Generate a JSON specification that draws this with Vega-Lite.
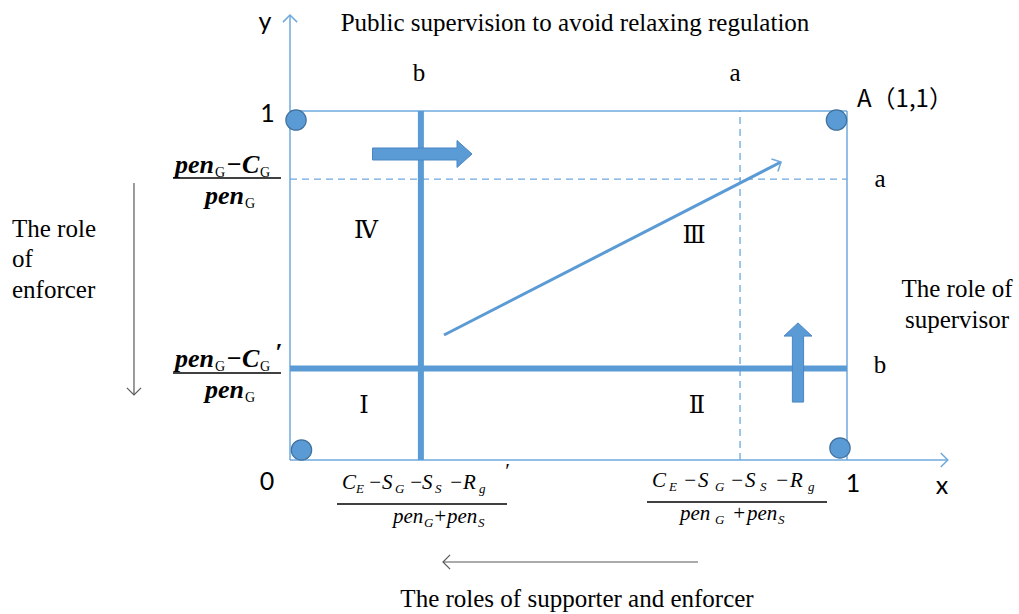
{
  "$schema": "https://vega.github.io/schema/vega-lite/v6.json",
  "width": 1019,
  "height": 614,
  "padding": 0,
  "autosize": {"type": "none"},
  "background": "white",
  "config": {"view": {"stroke": null}},
  "datasets": {
    "frame": [
      {"x": 0, "y": 0, "x2": 0, "y2": 1.275},
      {"x": 0, "y": 0, "x2": 1.181, "y2": 0},
      {"x": 0, "y": 1, "x2": 1, "y2": 1},
      {"x": 1, "y": 0, "x2": 1, "y2": 1}
    ],
    "thick": [
      {"x": 0.235, "y": 0, "x2": 0.235, "y2": 1},
      {"x": 0, "y": 0.262, "x2": 1, "y2": 0.262}
    ],
    "dashed": [
      {"x": 0, "y": 0.805, "x2": 1, "y2": 0.805},
      {"x": 0.808, "y": 0, "x2": 0.808, "y2": 1}
    ],
    "diag": [{"x": 0.2765, "y": 0.3582, "x2": 0.8815, "y2": 0.8539}],
    "blueHeads": [
      {"x": 0, "y": 1.275, "a": 0},
      {"x": 1.181, "y": 0, "a": 90},
      {"x": 0.8815, "y": 0.8539, "a": 62.8}
    ],
    "grayLines": [
      {"x": -0.2801, "y": 0.7937, "x2": -0.2801, "y2": 0.1862},
      {"x": 0.2747, "y": -0.2923, "x2": 0.7325, "y2": -0.2923}
    ],
    "grayHeads": [
      {"x": -0.2801, "y": 0.1862, "a": 180},
      {"x": 0.2747, "y": -0.2923, "a": 270}
    ],
    "corners": [
      {"x": 0.0108, "y": 0.9742},
      {"x": 0.9811, "y": 0.9742},
      {"x": 0.0206, "y": 0.0287},
      {"x": 0.9874, "y": 0.0344}
    ],
    "rightArrow": [{"x": 0.2379, "y": 0.8768}],
    "upArrow": [{"x": 0.912, "y": 0.2794}],
    "bars": [
      {"x": -0.2101, "y": 0.808, "x2": -0.0162, "y2": 0.808},
      {"x": -0.2101, "y": 0.2493, "x2": -0.0162, "y2": 0.2493},
      {"x": 0.0844, "y": -0.1261, "x2": 0.3896, "y2": -0.1261},
      {"x": 0.6409, "y": -0.1203, "x2": 0.9641, "y2": -0.1203}
    ],
    "serifCenter": [
      {"x": 0.5117, "y": 1.2292, "t": "Public supervision to avoid relaxing regulation"},
      {"x": 0.5153, "y": -0.4212, "t": "The roles of supporter and enforcer"},
      {"x": 1.1975, "y": 0.467, "t": "The role of"},
      {"x": 1.1975, "y": 0.3782, "t": "supervisor"},
      {"x": 0.2316, "y": 1.0859, "t": "b"},
      {"x": 0.7989, "y": 1.0859, "t": "a"},
      {"x": 1.0592, "y": 0.7822, "t": "a"},
      {"x": 1.0592, "y": 0.2493, "t": "b"}
    ],
    "serifLeft": [
      {"x": -0.4991, "y": 0.639, "t": "The role"},
      {"x": -0.4991, "y": 0.553, "t": "of"},
      {"x": -0.4991, "y": 0.4642, "t": "enforcer"}
    ],
    "sans": [
      {"x": -0.0449, "y": 1.2321, "t": "y"},
      {"x": -0.0404, "y": 0.9685, "t": "1"},
      {"x": -0.0413, "y": -0.086, "t": "0"},
      {"x": 1.0108, "y": -0.0917, "t": "1"},
      {"x": 1.1706, "y": -0.0974, "t": "x"}
    ],
    "pointLabel": [{"x": 1.018, "y": 1.0115, "t": "A（1,1）"}],
    "roman": [
      {"x": 0.1364, "y": 0.6562, "t": "Ⅳ"},
      {"x": 0.7253, "y": 0.6418, "t": "Ⅲ"},
      {"x": 0.1329, "y": 0.1547, "t": "Ⅰ"},
      {"x": 0.7307, "y": 0.1547, "t": "Ⅱ"}
    ],
    "leftMain": [
      {"x": -0.2065, "y": 0.8223, "t": "pen"},
      {"x": -0.1149, "y": 0.8223, "t": "−"},
      {"x": -0.0862, "y": 0.8223, "t": "C"},
      {"x": -0.1526, "y": 0.7335, "t": "pen"},
      {"x": -0.2065, "y": 0.2665, "t": "pen"},
      {"x": -0.1149, "y": 0.2665, "t": "−"},
      {"x": -0.0862, "y": 0.2665, "t": "C"},
      {"x": -0.1526, "y": 0.1777, "t": "pen"},
      {"x": -0.0269, "y": 0.2837, "t": "′"}
    ],
    "leftSub": [
      {"x": -0.1346, "y": 0.8109, "t": "G"},
      {"x": -0.0539, "y": 0.8109, "t": "G"},
      {"x": -0.0808, "y": 0.7221, "t": "G"},
      {"x": -0.1346, "y": 0.255, "t": "G"},
      {"x": -0.0539, "y": 0.255, "t": "G"},
      {"x": -0.0808, "y": 0.1662, "t": "G"}
    ],
    "botMain": [
      {"x": 0.0934, "y": -0.0831, "t": "C"},
      {"x": 0.14, "y": -0.0831, "t": "−"},
      {"x": 0.1652, "y": -0.0831, "t": "S"},
      {"x": 0.2136, "y": -0.0831, "t": "−"},
      {"x": 0.237, "y": -0.0831, "t": "S"},
      {"x": 0.2855, "y": -0.0831, "t": "−"},
      {"x": 0.3106, "y": -0.0831, "t": "R"},
      {"x": 0.3842, "y": -0.0516, "t": "′"},
      {"x": 0.1849, "y": -0.1805, "t": "pen"},
      {"x": 0.2567, "y": -0.1805, "t": "+"},
      {"x": 0.2819, "y": -0.1805, "t": "pen"},
      {"x": 0.6499, "y": -0.0774, "t": "C"},
      {"x": 0.7056, "y": -0.0774, "t": "−"},
      {"x": 0.7325, "y": -0.0774, "t": "S"},
      {"x": 0.7899, "y": -0.0774, "t": "−"},
      {"x": 0.8169, "y": -0.0774, "t": "S"},
      {"x": 0.8707, "y": -0.0774, "t": "−"},
      {"x": 0.8977, "y": -0.0774, "t": "R"},
      {"x": 0.7002, "y": -0.1719, "t": "pen"},
      {"x": 0.7935, "y": -0.1719, "t": "+"},
      {"x": 0.8205, "y": -0.1719, "t": "pen"}
    ],
    "botSub": [
      {"x": 0.1185, "y": -0.0946, "t": "E"},
      {"x": 0.1885, "y": -0.0946, "t": "G"},
      {"x": 0.2603, "y": -0.0946, "t": "S"},
      {"x": 0.3393, "y": -0.0946, "t": "g"},
      {"x": 0.2406, "y": -0.192, "t": "G"},
      {"x": 0.3375, "y": -0.192, "t": "S"},
      {"x": 0.6804, "y": -0.0888, "t": "E"},
      {"x": 0.763, "y": -0.0888, "t": "G"},
      {"x": 0.8438, "y": -0.0888, "t": "S"},
      {"x": 0.93, "y": -0.0888, "t": "g"},
      {"x": 0.763, "y": -0.1834, "t": "G"},
      {"x": 0.8761, "y": -0.1834, "t": "S"}
    ]
  },
  "encoding": {
    "x": {"field": "x", "type": "quantitative", "scale": {"domain": [-0.52065, 1.3088], "nice": false, "zero": false}, "axis": null},
    "y": {"field": "y", "type": "quantitative", "scale": {"domain": [-0.44126, 1.31805], "nice": false, "zero": false}, "axis": null}
  },
  "layer": [
    {
      "data": {"name": "frame"},
      "mark": {"type": "rule", "color": "#6FA8DC", "strokeWidth": 1.5},
      "encoding": {"x2": {"field": "x2"}, "y2": {"field": "y2"}}
    },
    {
      "data": {"name": "dashed"},
      "mark": {"type": "rule", "color": "#6FA8DC", "strokeWidth": 1.3, "strokeDash": [7, 5]},
      "encoding": {"x2": {"field": "x2"}, "y2": {"field": "y2"}}
    },
    {
      "data": {"name": "thick"},
      "mark": {"type": "rule", "color": "#5B9BD5", "strokeWidth": 6},
      "encoding": {"x2": {"field": "x2"}, "y2": {"field": "y2"}}
    },
    {
      "data": {"name": "diag"},
      "mark": {"type": "rule", "color": "#5B9BD5", "strokeWidth": 3},
      "encoding": {"x2": {"field": "x2"}, "y2": {"field": "y2"}}
    },
    {
      "data": {"name": "blueHeads"},
      "mark": {"type": "point", "shape": "M-1,1L0,0L1,1", "filled": false, "stroke": "#6FA8DC", "strokeWidth": 1.5, "size": 200, "opacity": 1},
      "encoding": {"angle": {"field": "a", "type": "quantitative", "scale": null}}
    },
    {
      "data": {"name": "grayLines"},
      "mark": {"type": "rule", "color": "#595959", "strokeWidth": 1.2},
      "encoding": {"x2": {"field": "x2"}, "y2": {"field": "y2"}}
    },
    {
      "data": {"name": "grayHeads"},
      "mark": {"type": "point", "shape": "M-1,1L0,0L1,1", "filled": false, "stroke": "#595959", "strokeWidth": 1.2, "size": 200, "opacity": 1},
      "encoding": {"angle": {"field": "a", "type": "quantitative", "scale": null}}
    },
    {
      "data": {"name": "corners"},
      "mark": {"type": "point", "shape": "circle", "filled": true, "fill": "#5B9BD5", "stroke": "#41719C", "strokeWidth": 1.2, "size": 415, "opacity": 1}
    },
    {
      "data": {"name": "rightArrow"},
      "mark": {"type": "point", "shape": "M-1,-0.12L0.69,-0.12L0.69,-0.27L0.99,0L0.69,0.27L0.69,0.12L-1,0.12Z", "filled": true, "fill": "#5B9BD5", "stroke": "#4A86C5", "strokeWidth": 1, "size": 10000, "opacity": 1}
    },
    {
      "data": {"name": "upArrow"},
      "mark": {"type": "point", "shape": "M-0.14,0.99L-0.14,-0.66L-0.35,-0.66L0,-0.99L0.35,-0.66L0.14,-0.66L0.14,0.99Z", "filled": true, "fill": "#5B9BD5", "stroke": "#4A86C5", "strokeWidth": 1, "size": 6400, "opacity": 1}
    },
    {
      "data": {"name": "bars"},
      "mark": {"type": "rule", "color": "#000000", "strokeWidth": 1.4},
      "encoding": {"x2": {"field": "x2"}, "y2": {"field": "y2"}}
    },
    {
      "data": {"name": "serifCenter"},
      "mark": {"type": "text", "font": "Liberation Serif", "fontSize": 25, "align": "center", "baseline": "alphabetic", "color": "#000000"},
      "encoding": {"text": {"field": "t"}}
    },
    {
      "data": {"name": "serifLeft"},
      "mark": {"type": "text", "font": "Liberation Serif", "fontSize": 25, "align": "left", "baseline": "alphabetic", "color": "#000000"},
      "encoding": {"text": {"field": "t"}}
    },
    {
      "data": {"name": "sans"},
      "mark": {"type": "text", "font": "Lato", "fontSize": 25, "align": "center", "baseline": "alphabetic", "color": "#000000"},
      "encoding": {"text": {"field": "t"}}
    },
    {
      "data": {"name": "pointLabel"},
      "mark": {"type": "text", "font": "Noto Sans CJK SC", "fontSize": 24, "align": "left", "baseline": "alphabetic", "color": "#000000"},
      "encoding": {"text": {"field": "t"}}
    },
    {
      "data": {"name": "roman"},
      "mark": {"type": "text", "font": "DejaVu Serif, Noto Sans CJK JP", "fontSize": 24, "align": "center", "baseline": "middle", "color": "#000000"},
      "encoding": {"text": {"field": "t"}}
    },
    {
      "data": {"name": "leftMain"},
      "mark": {"type": "text", "font": "Liberation Serif", "fontSize": 26, "fontStyle": "italic", "fontWeight": "bold", "align": "left", "baseline": "alphabetic", "color": "#000000"},
      "encoding": {"text": {"field": "t"}}
    },
    {
      "data": {"name": "leftSub"},
      "mark": {"type": "text", "font": "Liberation Serif", "fontSize": 14, "align": "left", "baseline": "alphabetic", "color": "#000000"},
      "encoding": {"text": {"field": "t"}}
    },
    {
      "data": {"name": "botMain"},
      "mark": {"type": "text", "font": "Liberation Serif", "fontSize": 21, "fontStyle": "italic", "align": "left", "baseline": "alphabetic", "color": "#000000"},
      "encoding": {"text": {"field": "t"}}
    },
    {
      "data": {"name": "botSub"},
      "mark": {"type": "text", "font": "Liberation Serif", "fontSize": 13, "fontStyle": "italic", "align": "left", "baseline": "alphabetic", "color": "#000000"},
      "encoding": {"text": {"field": "t"}}
    }
  ]
}
